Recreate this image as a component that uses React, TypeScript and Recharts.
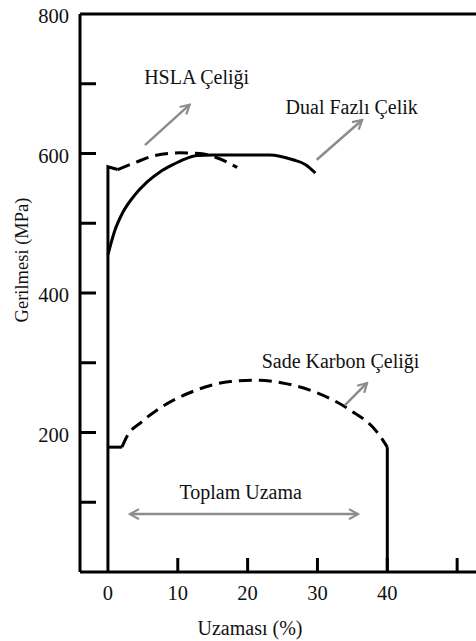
import { LineChart, Line, XAxis, YAxis, ReferenceLine, ReferenceDot, Label } from "recharts";

const FONT = "Liberation Serif, Times New Roman, serif";
const INK = "#111";
const ARROW = "#8c8c8c";

// axis ticks
const xTicks = [0, 10, 20, 30, 40, 50];
const xTickLabels = [0, 10, 20, 30, 40];
const yTicks = [0, 100, 200, 300, 400, 500, 600, 700, 800];
const yTickLabels = [200, 400, 600, 800];

// HSLA steel: elastic rise + dashed plastic region
const hslaElastic = [
  { x: 0, y: 0 },
  { x: 0, y: 581 },
  { x: 1.4, y: 577 },
];
const hslaPlastic = [
  { x: 1.4, y: 577 },
  { x: 3.9, y: 587 },
  { x: 6.7, y: 597 },
  { x: 10.3, y: 601 },
  { x: 13.2, y: 600 },
  { x: 15.3, y: 595 },
  { x: 18.5, y: 580 },
];

// dual phase steel
const dualPhase = [
  { x: 0, y: 455 },
  { x: 1, y: 490 },
  { x: 2.1, y: 515 },
  { x: 3.8, y: 540 },
  { x: 5.7, y: 560 },
  { x: 7.5, y: 574 },
  { x: 9.3, y: 584 },
  { x: 11, y: 592 },
  { x: 12.8, y: 597 },
  { x: 15, y: 598 },
  { x: 23.2, y: 598 },
  { x: 26.5, y: 591 },
  { x: 28.3, y: 584 },
  { x: 29.7, y: 572 },
];

// plain carbon steel
const carbonYield = [
  { x: 0, y: 179 },
  { x: 2, y: 179 },
];
const carbonPlastic = [
  { x: 2, y: 179 },
  { x: 2.7, y: 194 },
  { x: 4.8, y: 215 },
  { x: 7, y: 232 },
  { x: 11.7, y: 257 },
  { x: 17.5, y: 273 },
  { x: 21.3, y: 275 },
  { x: 25, y: 271 },
  { x: 29.9, y: 257 },
  { x: 34.7, y: 232 },
  { x: 38.5, y: 201 },
  { x: 40, y: 179 },
];
const carbonFracture = [
  { x: 40, y: 179 },
  { x: 40, y: 0 },
];

// annotation text anchors and arrows (data units)
const notes = [
  { text: "HSLA Çeliği", x: 12.7, y: 710 },
  { text: "Dual Fazlı Çelik", x: 34.9, y: 667 },
  { text: "Sade Karbon Çeliği", x: 33.3, y: 303 },
  { text: "Toplam Uzama", x: 19.0, y: 115 },
];
const pointers = [
  { from: { x: 5.3, y: 612 }, to: { x: 11.7, y: 670 }, both: false },
  { from: { x: 29.9, y: 591 }, to: { x: 36.4, y: 648 }, both: false },
  { from: { x: 33.9, y: 239 }, to: { x: 37.1, y: 271 }, both: false },
  { from: { x: 3.15, y: 83 }, to: { x: 35.8, y: 83 }, both: true },
];

const textStyle = { style: { fontFamily: FONT }, fill: INK };

const YTick = (props: any) => {
  const { x, y, payload } = props;
  const v = payload.value;
  const axisX = x + 11;
  return (
    <g>
      {v > 0 && v < 800 && (
        <line x1={axisX} x2={axisX + 16} y1={y} y2={y} stroke="#000" strokeWidth={3} />
      )}
      {yTickLabels.includes(v) && (
        <text x={x} y={y + 2} textAnchor="end" dominantBaseline="central" fontSize={20.5} {...textStyle}>
          {v}
        </text>
      )}
    </g>
  );
};

const XTick = (props: any) => {
  const { x, y, payload } = props;
  const v = payload.value;
  const axisY = y - 21;
  return (
    <g>
      {v > 0 && <line x1={x} x2={x} y1={axisY} y2={axisY - 14} stroke="#000" strokeWidth={3} />}
      {xTickLabels.includes(v) && (
        <text x={x} y={y} textAnchor="middle" dominantBaseline="central" fontSize={20.5} {...textStyle}>
          {v}
        </text>
      )}
    </g>
  );
};

const noteLabel = (text: string) => (props: any) => {
  const vb = props.viewBox;
  return (
    <text x={vb.x} y={vb.y} textAnchor="middle" dominantBaseline="central" fontSize={20} {...textStyle}>
      {text}
    </text>
  );
};

const arrowShape = (both: boolean) => (p: any) => (
  <line
    x1={p.x1}
    y1={p.y1}
    x2={p.x2}
    y2={p.y2}
    stroke={ARROW}
    strokeWidth={2.5}
    markerEnd="url(#open-arrow)"
    markerStart={both ? "url(#open-arrow)" : undefined}
  />
);

export default function App() {
  return (
    <div style={{ position: "absolute", left: 0, top: 0, width: 476, height: 641, background: "#fff" }}>
      <svg width={0} height={0} style={{ position: "absolute" }}>
        <defs>
          <marker
            id="open-arrow"
            viewBox="0 0 12 12"
            refX={10}
            refY={6}
            markerWidth={12}
            markerHeight={12}
            markerUnits="userSpaceOnUse"
            orient="auto-start-reverse"
          >
            <path d="M1,1 L10,6 L1,11" fill="none" stroke={ARROW} strokeWidth={2.2} />
          </marker>
        </defs>
      </svg>
      <LineChart width={476} height={641} margin={{ top: 14, right: 0, bottom: 0, left: 0 }}>
        <XAxis
          dataKey="x"
          type="number"
          domain={[-4, 52.7]}
          allowDataOverflow
          ticks={xTicks}
          interval={0}
          tick={<XTick />}
          tickLine={false}
          tickSize={0}
          tickMargin={21}
          axisLine={{ stroke: "#000", strokeWidth: 3 }}
          height={69}
        >
          <Label
            content={(p: any) => (
              <text
                x={p.viewBox.x + p.viewBox.width / 2 - 28}
                y={628}
                textAnchor="middle"
                dominantBaseline="central"
                fontSize={20}
                {...textStyle}
              >
                Uzaması (%)
              </text>
            )}
          />
        </XAxis>
        <YAxis
          type="number"
          domain={[0, 800]}
          ticks={yTicks}
          interval={0}
          tick={<YTick />}
          tickLine={false}
          tickSize={0}
          tickMargin={11}
          axisLine={{ stroke: "#000", strokeWidth: 3 }}
          width={80}
        >
          <Label
            content={(p: any) => {
              const cx = 22;
              const cy = p.viewBox.y + p.viewBox.height / 2 - 33;
              return (
                <text
                  x={cx}
                  y={cy}
                  transform={`rotate(-90 ${cx} ${cy})`}
                  textAnchor="middle"
                  dominantBaseline="central"
                  fontSize={18.5}
                  {...textStyle}
                >
                  Gerilmesi (MPa)
                </text>
              );
            }}
          />
        </YAxis>

        <ReferenceLine y={800} stroke="#000" strokeWidth={3} />

        <Line data={hslaElastic} dataKey="y" type="linear" stroke="#000" strokeWidth={3} dot={false} isAnimationActive={false} />
        <Line data={hslaPlastic} dataKey="y" type="monotone" stroke="#000" strokeWidth={3} strokeDasharray="13 7" dot={false} isAnimationActive={false} />
        <Line data={dualPhase} dataKey="y" type="monotone" stroke="#000" strokeWidth={3} dot={false} isAnimationActive={false} />
        <Line data={carbonYield} dataKey="y" type="linear" stroke="#000" strokeWidth={3} dot={false} isAnimationActive={false} />
        <Line data={carbonPlastic} dataKey="y" type="monotone" stroke="#000" strokeWidth={3} strokeDasharray="13 7" dot={false} isAnimationActive={false} />
        <Line data={carbonFracture} dataKey="y" type="linear" stroke="#000" strokeWidth={3} dot={false} isAnimationActive={false} />

        {pointers.map((a, i) => (
          <ReferenceLine key={`p${i}`} segment={[a.from, a.to]} shape={arrowShape(a.both)} />
        ))}
        {notes.map((n) => (
          <ReferenceDot key={n.text} x={n.x} y={n.y} r={0} fill="none" stroke="none" label={{ content: noteLabel(n.text) }} />
        ))}
      </LineChart>
    </div>
  );
}
